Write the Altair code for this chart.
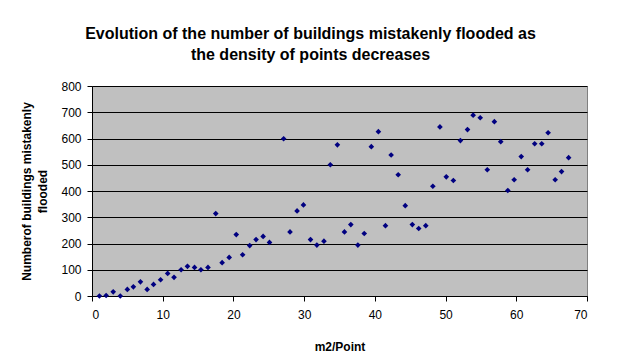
import altair as alt
import pandas as pd

m2_per_point = [1.05, 2.0, 3.0, 4.0, 5.0, 5.85, 6.85, 7.8, 8.7, 9.7, 10.7, 11.6, 12.6, 13.5,
                14.5, 15.4, 16.4, 17.5, 18.4, 19.4, 20.4, 21.3, 22.3, 23.2, 24.2, 25.1,
                27.1, 28.0, 29.0, 29.9, 30.9, 31.8, 32.8, 33.7, 34.7, 35.7, 36.6, 37.6,
                38.5, 39.5, 40.5, 41.5, 42.3, 43.3, 44.3, 45.3, 46.2, 47.2, 48.2, 49.2,
                50.1, 51.1, 52.1, 53.1, 53.9, 54.9, 55.9, 56.9, 57.8, 58.8, 59.7, 60.7,
                61.6, 62.6, 63.6, 64.5, 65.5, 66.4, 67.4]
flooded = [0, 2, 16, 0, 25, 35, 54, 25, 44, 62, 86, 71, 100, 113,
           109, 100, 109, 314, 127, 147, 234, 157, 192, 215, 227, 204,
           599, 244, 324, 347, 215, 194, 209, 500, 576, 244, 272, 194,
           238, 569, 626, 268, 537, 462, 344, 272, 257, 268, 418, 644,
           454, 440, 592, 634, 689, 679, 481, 664, 588, 402, 443, 531,
           481, 580, 580, 622, 443, 474, 527]

x_ticks = [0, 10, 20, 30, 40, 50, 60, 70]
y_ticks = [0, 100, 200, 300, 400, 500, 600, 700, 800]

df = pd.DataFrame({"m2": m2_per_point, "n": flooded})

FONT = "Liberation Sans"

chart = alt.Chart(df).mark_point(
    shape="diamond", filled=True, color="#000080", size=32, opacity=1
).encode(
    x=alt.X("m2:Q",
            scale=alt.Scale(domain=[0, 70], nice=False, zero=False),
            axis=alt.Axis(values=x_ticks, grid=False, title="m2/Point",
                          domainColor="black", tickColor="black", tickSize=5,
                          labelFont=FONT, labelFontSize=12, labelColor="black",
                          labelPadding=8,
                          titleFont=FONT, titleFontSize=12, titleFontWeight="bold",
                          titleColor="black", titlePadding=21)),
    y=alt.Y("n:Q",
            scale=alt.Scale(domain=[0, 800], nice=False),
            axis=alt.Axis(values=y_ticks, grid=True, gridColor="black", gridOpacity=1,
                          gridWidth=1,
                          title=["Numberof buildings mistakenly", "flooded"],
                          domainColor="black", tickColor="black", tickSize=5,
                          labelFont=FONT, labelFontSize=12, labelColor="black",
                          labelPadding=6,
                          titleFont=FONT, titleFontSize=12, titleFontWeight="bold",
                          titleColor="black", titleLineHeight=16, titlePadding=11)),
).properties(
    width=495,
    height=210,
    background="white",
    title=alt.TitleParams(
        text=["Evolution of the number of buildings mistakenly flooded as",
              "the density of points decreases"],
        font=FONT, fontSize=16, fontWeight="bold", color="black",
        lineHeight=21, anchor="middle", dx=-29, offset=17),
    autosize=alt.AutoSizeParams(type="none"),
    padding={"left": 84, "top": 78, "right": 25, "bottom": 57},
).configure_view(
    fill="#C0C0C0", stroke="#808080", strokeWidth=1
)

chart.save("out.html", embed_options={"renderer": "svg", "actions": False})
